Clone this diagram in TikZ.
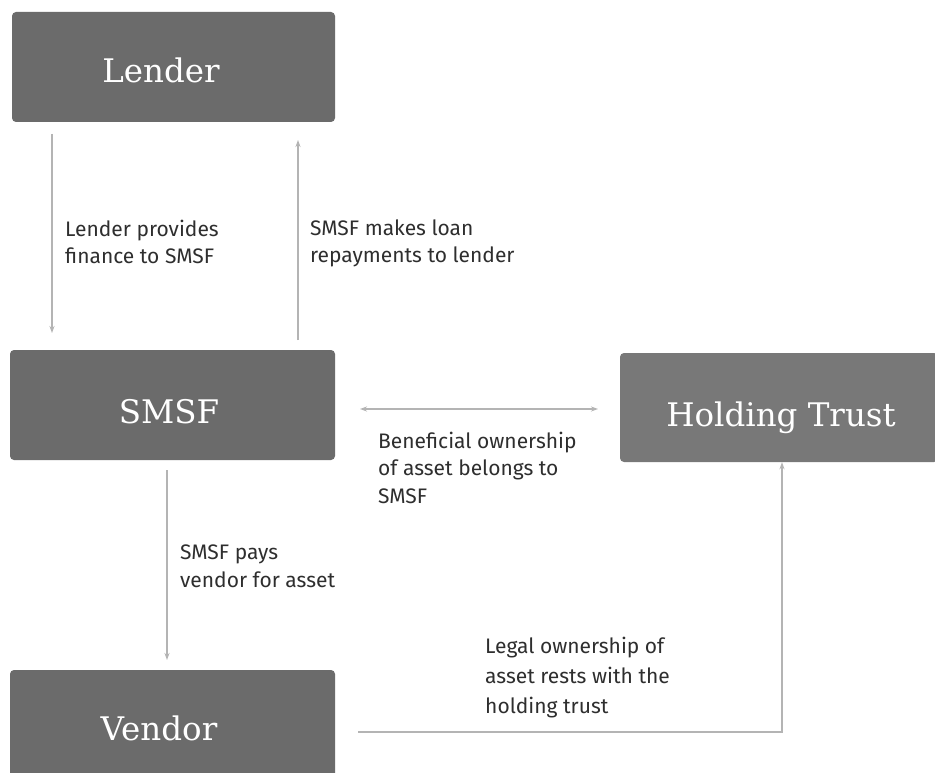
\documentclass[tikz,border=0pt]{standalone}
\usepackage{fontspec}
\setmainfont{Fira Sans}
\newfontfamily\boxfont{DejaVu Serif}
\usetikzlibrary{arrows.meta}
\definecolor{boxgray}{HTML}{6B6B6B}
\definecolor{trustgray}{HTML}{787878}
\definecolor{linegray}{HTML}{B4B4B4}
\definecolor{labelgray}{HTML}{2E2E2E}
\tikzset{
  boxnode/.style={fill=boxgray, rounded corners=4pt, inner sep=0pt},
  boxtxt/.style={anchor=base, inner sep=0pt, text=white,
    font=\boxfont\fontsize{32.5}{38}\selectfont},
  lbl/.style={anchor=north west, align=left, text=labelgray, inner sep=0pt,
    font=\fontsize{21}{27.5}\selectfont},
  conn/.style={draw=linegray, line width=1.3pt, -{Stealth[length=7pt,width=5pt]}},
}
\begin{document}
\begin{tikzpicture}[x=1pt,y=-1pt]
\useasboundingbox[fill=white] (0,0) rectangle (935,773);
\node[boxnode, minimum width=323pt, minimum height=110pt] (lender) at (173.5,67) {};
\node[boxtxt] (lendertxt) at (161,83) {Lender};
\node[boxnode, minimum width=325pt, minimum height=110pt] (smsf) at (172.5,405) {};
\node[boxtxt] (smsftxt) at (169,423) {SMSF};
\node[boxnode, fill=trustgray, minimum width=318pt, minimum height=109pt] (trust) at (779,407.5) {};
\node[boxtxt] (trusttxt) at (781,426) {Holding Trust};
\node[boxnode, minimum width=325pt, minimum height=120pt] (vendor) at (172.5,730) {};
\node[boxtxt] (vendortxt) at (159,740) {Vendor};

\coordinate (a1s) at (52,134);
\coordinate (a1e) at (52,333);
\draw[conn] (a1s) -- (a1e);
\coordinate (a2s) at (298,340);
\coordinate (a2e) at (298,140);
\draw[conn] (a2s) -- (a2e);
\node[lbl] (l1) at (65,219.5) {Lender provides\\finance to SMSF};
\node[lbl] (l2) at (310,219.5) {SMSF makes loan\\repayments to lender};

\coordinate (b1) at (360,409);
\coordinate (b2) at (598,409);
\draw[conn, {Stealth[length=7pt,width=5pt]}-{Stealth[length=7pt,width=5pt]}] (b1) -- (b2);
\node[lbl] (l3) at (378,431.5) {Beneficial ownership\\of asset belongs to\\SMSF};

\coordinate (c1) at (167,470);
\coordinate (c2) at (167,660);
\draw[conn] (c1) -- (c2);
\node[lbl] (l4) at (180,545) {SMSF pays\\vendor for asset};

\coordinate (d1) at (358,732);
\coordinate (d2) at (782,732);
\draw[conn] (d1) -- (d2) -- (trust.south -| d2);
\node[lbl, font=\fontsize{21}{30}\selectfont] (l5) at (485,636.5) {Legal ownership of\\asset rests with the\\holding trust};
\end{tikzpicture}
\end{document}
